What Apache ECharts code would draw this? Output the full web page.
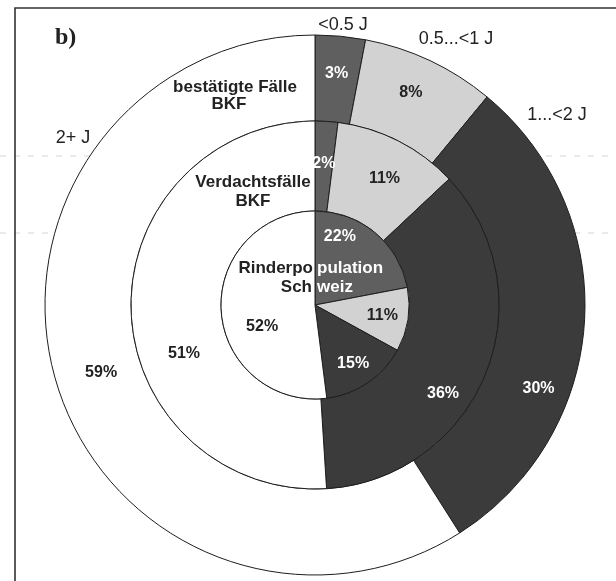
<!DOCTYPE html>
<html>
<head>
<meta charset="utf-8">
<script src="https://cdn.jsdelivr.net/npm/echarts@6/dist/echarts.min.js"></script>
<style>
  html, body { margin: 0; padding: 0; background: #fff; }
  #chart { width: 616px; height: 581px; }
</style>
</head>
<body>
<div id="chart"></div>
<script>
// age classes, same order in every ring (clockwise from 12 o'clock)
var categories = ['<0.5 J', '0.5...<1 J', '1...<2 J', '2+ J'];

// percent per age class
var confirmedBKF = [3, 8, 30, 59];      // outer ring: bestätigte Fälle BKF
var suspectedBKF = [2, 11, 36, 51];     // middle ring: Verdachtsfälle BKF
var cattleSwiss = [22, 11, 15, 52];     // inner pie: Rinderpopulation Schweiz

// styling
var ringColors = ['#5f5f5f', '#d2d2d2', '#3b3b3b', '#ffffff'];
var labelColors = ['#ffffff', '#222222', '#ffffff', '#222222'];

// nudges so the percent labels sit where the original put them
var shiftOuter = [[0, -2], [-2, -4], [-6, 69], [7, 3]];
var shiftMiddle = [[0, 0], [5, 0], [-4, 36], [11, 44]];
var shiftInner = [[-7, -30], [18, 3], [10, 17], [-3, 18]];
var shifts = [shiftOuter, shiftMiddle, shiftInner];

var cx = 315, cy = 305;
var font = '"Liberation Sans", Arial, sans-serif';

function buildData(values) {
	return values.map(function (v, i) {
		return {
			name: categories[i],
			value: v,
			itemStyle: { color: ringColors[i] },
			label: { color: labelColors[i] }
		};
	});
}

function ring(name, values, radius) {
	return {
		type: 'pie',
		name: name,
		center: [cx, cy],
		radius: radius,
		startAngle: 90,
		clockwise: true,
		avoidLabelOverlap: false,
		silent: true,
		itemStyle: { borderColor: '#1e1e1e', borderWidth: 1 },
		label: {
			show: true,
			position: 'inside',
			formatter: '{c}%',
			fontFamily: font,
			fontWeight: 'bold',
			fontSize: 16
		},
		labelLine: { show: false },
		labelLayout: function (p) {
			var s = shifts[p.seriesIndex][p.dataIndex];
			return { dx: s[0], dy: s[1] };
		},
		data: buildData(values)
	};
}

// category names around the outer ring
var catPos = [[343, 25], [456, 39], [557, 115], [73, 138]];
var graphics = [
	{ type: 'rect', shape: { x: 15, y: 8, width: 640, height: 620 }, style: { fill: 'none', stroke: '#333', lineWidth: 1.6 }, z: 10 },
	{ type: 'line', shape: { x1: 0, y1: 156, x2: 616, y2: 156 }, style: { stroke: '#d4d4d4', lineWidth: 1, lineDash: [6, 8] }, z: -1 },
	{ type: 'line', shape: { x1: 0, y1: 233, x2: 616, y2: 233 }, style: { stroke: '#d4d4d4', lineWidth: 1, lineDash: [6, 8] }, z: -1 },
	{ type: 'text', x: 55, y: 38, style: { text: 'b)', font: 'bold 24px "Liberation Serif", "Times New Roman", serif', fill: '#222', verticalAlign: 'middle' }, z: 10 }
];
categories.forEach(function (c, i) {
	graphics.push({
		type: 'text', x: catPos[i][0], y: catPos[i][1], z: 10,
		style: { text: c, font: '18px ' + font, fill: '#222', align: 'center', verticalAlign: 'middle' }
	});
});

function nameText(txt, x, y, align, color) {
	return {
		type: 'text', x: x, y: y, z: 10,
		style: { text: txt, font: 'bold 17px ' + font, fill: color, align: align, verticalAlign: 'middle' }
	};
}
graphics.push(nameText('bestätigte Fälle', 235, 87, 'center', '#222'));
graphics.push(nameText('BKF', 229, 104, 'center', '#222'));
graphics.push(nameText('Verdachtsfälle', 253, 182, 'center', '#222'));
graphics.push(nameText('BKF', 253, 201, 'center', '#222'));
// the pie title crosses the white/grey split, so it changes colour there
graphics.push(nameText('Rinderpo', 313, 268, 'right', '#222'));
graphics.push(nameText('pulation', 317, 268, 'left', '#fff'));
graphics.push(nameText('Sch', 312, 287, 'right', '#222'));
graphics.push(nameText('weiz', 317, 287, 'left', '#fff'));

var chart = echarts.init(document.getElementById('chart'), null, { renderer: 'canvas' });
chart.setOption({
	backgroundColor: '#ffffff',
	animation: false,
	series: [
		ring('bestätigte Fälle BKF', confirmedBKF, [184, 270]),
		ring('Verdachtsfälle BKF', suspectedBKF, [94, 184]),
		ring('Rinderpopulation Schweiz', cattleSwiss, [0, 94])
	],
	graphic: graphics
});
</script>
</body>
</html>
